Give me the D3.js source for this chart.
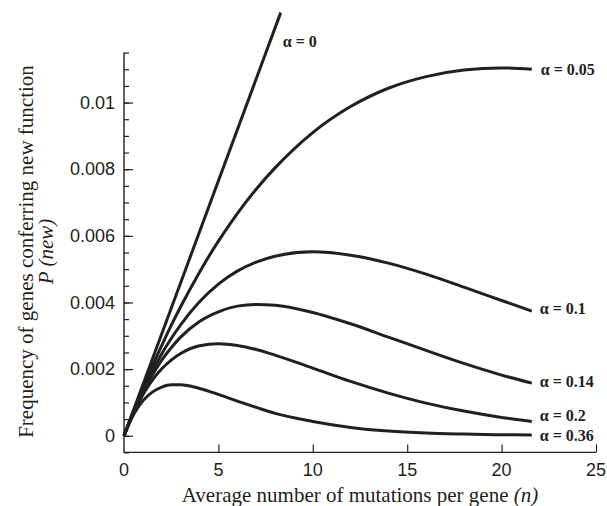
<!DOCTYPE html>
<html lang="en">
    <head>
        <meta charset="utf-8">
        <title>P(new) vs mutations</title>
        <script type="text/javascript" src="https://d3js.org/d3.v7.min.js"></script>
        <style type="text/css">
           html, body { margin:0; padding:0; overflow:hidden; background:#fff }
           svg { display:block }
        </style>
    </head>
    <body>
        <script type="text/javascript">

          // data
          var nPoints = [0, 0.5, 1, 1.5, 2, 2.5, 3, 4, 5, 6, 7, 8, 10, 12, 14, 16, 18, 20, 21.6];
          var alpha0N = [0, 8.3];
          var alpha0P = [0, 0.0127];
          var alpha005 = [0, 0.00073, 0.00143, 0.00209, 0.00271, 0.00331, 0.00387, 0.00491, 0.00584, 0.00667,
                          0.00740, 0.00804, 0.00910, 0.00988, 0.01043, 0.01078, 0.01098, 0.01104, 0.01100];
          var alpha01 = [0, 0.00071, 0.00136, 0.00194, 0.00246, 0.00292, 0.00333, 0.00402, 0.00455, 0.00494,
                         0.00521, 0.00539, 0.00552, 0.00542, 0.00518, 0.00485, 0.00446, 0.00406, 0.00374];
          var alpha014 = [0, 0.00070, 0.00130, 0.00182, 0.00227, 0.00264, 0.00296, 0.00343, 0.00372, 0.00389,
                          0.00394, 0.00392, 0.00370, 0.00336, 0.00296, 0.00256, 0.00217, 0.00182, 0.00158];
          var alpha02 = [0, 0.00068, 0.00123, 0.00167, 0.00201, 0.00227, 0.00247, 0.00270, 0.00276, 0.00271,
                         0.00259, 0.00242, 0.00203, 0.00163, 0.00128, 0.00098, 0.00074, 0.00055, 0.00043];
          var alpha036 = [0, 0.00063, 0.00105, 0.00131, 0.00146, 0.00153, 0.00153, 0.00142, 0.00124, 0.00104,
                          0.00085, 0.00067, 0.00043, 0.00025, 0.00014, 0.00008, 0.00005, 0.00003, 0.00002];
          var seriesNames = ["\u03b1 = 0", "\u03b1 = 0.05", "\u03b1 = 0.1", "\u03b1 = 0.14", "\u03b1 = 0.2", "\u03b1 = 0.36"];
          var xTicks = [0, 5, 10, 15, 20, 25];
          var yTicks = [0, 0.002, 0.004, 0.006, 0.008, 0.01];
          var yTickLabels = ["0", "0.002", "0.004", "0.006", "0.008", "0.01"];

          var width = 607, height = 506;
          var ink = "#231f20";
          var serif = "'Liberation Serif', 'Times New Roman', serif";
          var sans = "'Liberation Sans', Arial, sans-serif";

          var svg = d3.select("body").append("svg")
             .attr("width", width).attr("height", height);

          var x = d3.scaleLinear().domain([0, 25]).range([124, 596]);
          var y = d3.scaleLinear().domain([-0.0005, 0.0115]).range([452.4, 52.6]);

          // series as point lists
          var series = [
            alpha0N.map(function(n, i) { return [n, alpha0P[i]]; }),
            nPoints.map(function(n, i) { return [n, alpha005[i]]; }),
            nPoints.map(function(n, i) { return [n, alpha01[i]]; }),
            nPoints.map(function(n, i) { return [n, alpha014[i]]; }),
            nPoints.map(function(n, i) { return [n, alpha02[i]]; }),
            nPoints.map(function(n, i) { return [n, alpha036[i]]; })
          ];

          // axes (ticks point inward)
          var yMinor = d3.range(-0.0005, 0.01151, 0.0005);
          svg.append("g")
             .attr("transform", "translate(" + x(0) + ",0)")
             .call(d3.axisRight(y).tickValues(yMinor).tickSize(5).tickFormat(""))
             .call(function(g) {
                g.select(".domain").remove();
                g.selectAll("line").attr("stroke", ink).attr("stroke-width", 1.2);
             });
          svg.append("g")
             .attr("transform", "translate(" + x(0) + ",0)")
             .call(d3.axisRight(y).tickValues(yTicks).tickSize(9)
                   .tickFormat(function(d, i) { return yTickLabels[i]; }))
             .call(function(g) {
                g.select(".domain").remove();
                g.selectAll("line").attr("stroke", ink).attr("stroke-width", 1.2);
                g.selectAll("text").attr("x", -9).attr("text-anchor", "end")
                 .attr("font-family", sans).attr("font-size", 18).attr("fill", ink);
             });
          svg.append("g")
             .attr("transform", "translate(0," + y(-0.0005) + ")")
             .call(d3.axisTop(x).tickValues(xTicks.slice(1)).tickSize(8).tickFormat(""))
             .call(function(g) {
                g.select(".domain").remove();
                g.selectAll("line").attr("stroke", ink).attr("stroke-width", 1.2);
             });
          svg.append("g")
             .attr("transform", "translate(0," + y(-0.0005) + ")")
             .selectAll("text").data(xTicks).enter().append("text")
             .attr("x", function(d) { return x(d); })
             .attr("y", 24)
             .attr("text-anchor", "middle")
             .attr("font-family", sans).attr("font-size", 18).attr("fill", ink)
             .text(function(d) { return d; });

          svg.append("path")
             .attr("d", "M" + x(0) + "," + y(0.0115) + "V" + y(-0.0005) + "H" + x(25))
             .attr("fill", "none").attr("stroke", ink).attr("stroke-width", 1.4);

          // curves
          var line = d3.line()
             .x(function(d) { return x(d[0]); })
             .y(function(d) { return y(d[1]); })
             .curve(d3.curveMonotoneX);
          svg.selectAll("path.curve")
             .data(series)
             .enter()
             .append("path")
             .attr("class", "curve")
             .attr("d", line)
             .attr("fill", "none").attr("stroke", ink).attr("stroke-width", 3)
             .attr("stroke-linecap", "butt");

          // curve labels
          var labelShift = [[2, 29], [9, 0], [8, -3], [8, -2], [8, -6], [8, 0]];
          svg.selectAll("text.lab")
             .data(series)
             .enter()
             .append("text")
             .attr("class", "lab")
             .attr("x", function(d, i) { return (i === 0 ? x(d[d.length - 1][0]) : x(21.6)) + labelShift[i][0]; })
             .attr("y", function(d, i) { return y(d[d.length - 1][1]) + labelShift[i][1]; })
             .attr("dy", "0.35em")
             .attr("font-family", serif).attr("font-weight", "bold").attr("font-size", 16)
             .attr("fill", ink)
             .text(function(d, i) { return seriesNames[i]; });

          // axis titles
          var xt = svg.append("text")
             .attr("x", 360).attr("y", 502)
             .attr("text-anchor", "middle")
             .attr("font-family", serif).attr("font-size", 21).attr("fill", ink);
          xt.append("tspan").text("Average number of mutations per gene ");
          xt.append("tspan").attr("font-style", "italic").text("(n)");

          var yt = svg.append("text")
             .attr("transform", "translate(33,251.5) rotate(-90)")
             .attr("text-anchor", "middle")
             .attr("font-family", serif).attr("font-size", 21).attr("fill", ink);
          yt.append("tspan").attr("x", 0).attr("y", 0).text("Frequency of genes conferring new function");
          yt.append("tspan").attr("x", 0).attr("y", 20).attr("font-style", "italic").text("P (new)");

        </script>
    </body>
</html>
